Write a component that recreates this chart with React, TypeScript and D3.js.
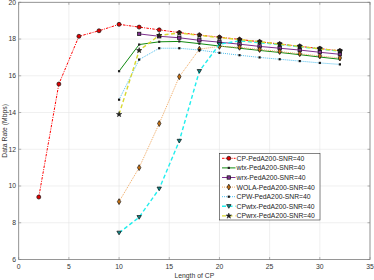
import React from "react";
import * as d3 from "d3";

const cpLen = [2, 4, 6, 8, 10, 12, 14, 16, 18, 20, 22, 24, 26, 28, 30, 32];
const cpLen10 = [10, 12, 14, 16, 18, 20, 22, 24, 26, 28, 30, 32];
const cpLen12 = [12, 14, 16, 18, 20, 22, 24, 26, 28, 30, 32];

const cpRate = [9.4, 15.55, 18.15, 18.45, 18.8, 18.65, 18.5, 18.35, 18.22, 18.1, 17.98, 17.85, 17.73, 17.6, 17.48, 17.36];
const wtxRate = [16.25, 17.7, 17.85, 17.87, 17.75, 17.62, 17.5, 17.38, 17.27, 17.15, 17.02, 16.9];
const wrxRate = [18.28, 18.15, 18.07, 17.93, 17.83, 17.72, 17.6, 17.5, 17.4, 17.28, 17.17];
const wolaRate = [9.15, 11.0, 13.4, 15.95, 17.45, 17.6, 17.55, 17.43, 17.32, 17.2, 17.08, 16.97];
const cpwRate = [14.7, 16.88, 17.5, 17.5, 17.4, 17.25, 17.12, 17.0, 16.9, 16.8, 16.7, 16.62];
const cpwtxRate = [7.45, 8.3, 9.85, 12.45, 16.25, 17.72, 17.9, 17.8, 17.7, 17.58, 17.46, 17.33];
const cpwrxRate = [13.9, 17.38, 18.2, 18.33, 18.2, 18.08, 17.97, 17.85, 17.72, 17.6, 17.47, 17.35];

const xTicks = [0, 5, 10, 15, 20, 25, 30, 35];
const yTicks = [6, 8, 10, 12, 14, 16, 18, 20];

type Series = {
  name: string;
  xs: number[];
  ys: number[];
  color: string;
  dash: string;
  width: number;
  marker: string;
  fill: string;
};

const series: Series[] = [
  { name: "CP-PedA200-SNR=40", xs: cpLen, ys: cpRate, color: "#ff0000", dash: "2.5,1.2,1,1.2", width: 1, marker: "circle", fill: "#e00000" },
  { name: "wtx-PedA200-SNR=40", xs: cpLen10, ys: wtxRate, color: "#108a10", dash: "", width: 1, marker: "dot", fill: "#222" },
  { name: "wrx-PedA200-SNR=40", xs: cpLen12, ys: wrxRate, color: "#7e2f8e", dash: "", width: 1, marker: "square", fill: "#7e2f8e" },
  { name: "WOLA-PedA200-SNR=40", xs: cpLen10, ys: wolaRate, color: "#f0a860", dash: "1,1", width: 1, marker: "diamond", fill: "#c87010" },
  { name: "CPW-PedA200-SNR=40", xs: cpLen10, ys: cpwRate, color: "#4dbeee", dash: "1,1", width: 1, marker: "dot", fill: "#111" },
  { name: "CPwtx-PedA200-SNR=40", xs: cpLen10, ys: cpwtxRate, color: "#22eeee", dash: "4,2.5", width: 1.4, marker: "triangle", fill: "#108888" },
  { name: "CPwrx-PedA200-SNR=40", xs: cpLen10, ys: cpwrxRate, color: "#d8d830", dash: "4,2.5", width: 1.4, marker: "star", fill: "#222" },
];

const W = 374;
const H = 280;
const m = { left: 18.7, right: 4, top: 2.3, bottom: 20.5 };

function Marker({ type, x, y, fill }: { type: string; x: number; y: number; fill: string }) {
  const s = "#111";
  if (type === "circle") return <circle cx={x} cy={y} r={2} fill={fill} stroke={s} strokeWidth={0.7} />;
  if (type === "dot") return <rect x={x - 1.1} y={y - 1.1} width={2.2} height={2.2} fill={fill} />;
  if (type === "square") return <rect x={x - 1.7} y={y - 1.7} width={3.4} height={3.4} fill={fill} stroke={s} strokeWidth={0.7} />;
  if (type === "diamond") {
    const p = d3.symbol(d3.symbolDiamond, 10)();
    return <path d={p || ""} transform={`translate(${x},${y})`} fill={fill} stroke={s} strokeWidth={0.7} />;
  }
  if (type === "triangle") {
    const p = `M${x - 2.2},${y - 1.7} L${x + 2.2},${y - 1.7} L${x},${y + 2} Z`;
    return <path d={p} fill={fill} stroke={s} strokeWidth={0.7} />;
  }
  const p = d3.symbol(d3.symbolStar, 9)();
  return <path d={p || ""} transform={`translate(${x},${y})`} fill={fill} stroke={s} strokeWidth={0.5} />;
}

export default function App() {
  const x = d3.scaleLinear().domain([0, 35]).range([m.left, W - m.right]);
  const y = d3.scaleLinear().domain([6, 20]).range([H - m.bottom, m.top]);
  const font = "Liberation Sans, Arial, sans-serif";

  const lg = { x: 219.5, y: 153.3, w: 100.5, h: 66.7, row: 9.6 };

  return (
    <svg width={W} height={H} style={{ position: "absolute", left: 0, top: 0, background: "#fff" }}>
      <rect x={0} y={0} width={W} height={H} fill="#fff" />
      {xTicks.map((t) => (
        <line key={"gx" + t} x1={x(t)} x2={x(t)} y1={y(6)} y2={y(20)} stroke="#e6e6e6" strokeWidth={0.6} />
      ))}
      {yTicks.map((t) => (
        <line key={"gy" + t} x1={x(0)} x2={x(35)} y1={y(t)} y2={y(t)} stroke="#e6e6e6" strokeWidth={0.6} />
      ))}
      {series.map((s) => {
        const pts = s.xs.map((v, i) => [x(v), y(s.ys[i])] as [number, number]);
        return (
          <g key={s.name}>
            <path d={d3.line()(pts) || ""} fill="none" stroke={s.color} strokeWidth={s.width} strokeDasharray={s.dash || undefined} />
            {pts.map((p, i) => (
              <Marker key={i} type={s.marker} x={p[0]} y={p[1]} fill={s.fill} />
            ))}
          </g>
        );
      })}
      <rect x={x(0)} y={y(20)} width={x(35) - x(0)} height={y(6) - y(20)} fill="none" stroke="#808080" strokeWidth={0.8} />
      {xTicks.map((t) => (
        <g key={"tx" + t}>
          <line x1={x(t)} x2={x(t)} y1={y(6)} y2={y(6) - 2.5} stroke="#808080" strokeWidth={0.6} />
          <line x1={x(t)} x2={x(t)} y1={y(20)} y2={y(20) + 2.5} stroke="#808080" strokeWidth={0.6} />
          <text x={x(t)} y={269} textAnchor="middle" fontSize={6.8} fontFamily={font} fill="#333">{t}</text>
        </g>
      ))}
      {yTicks.map((t) => (
        <g key={"ty" + t}>
          <line x1={x(0)} x2={x(0) + 2.5} y1={y(t)} y2={y(t)} stroke="#808080" strokeWidth={0.6} />
          <line x1={x(35)} x2={x(35) - 2.5} y1={y(t)} y2={y(t)} stroke="#808080" strokeWidth={0.6} />
          <text x={16} y={y(t) + 2.4} textAnchor="end" fontSize={6.8} fontFamily={font} fill="#333">{t}</text>
        </g>
      ))}
      <text x={x(17.5)} y={277.5} textAnchor="middle" fontSize={6.8} fontFamily={font} fill="#333">Length of CP</text>
      <text transform={`translate(6.5,${y(13)}) rotate(-90)`} textAnchor="middle" fontSize={6.8} fontFamily={font} fill="#333">Data Rate (Mbps)</text>
      <g>
        <rect x={lg.x} y={lg.y} width={lg.w} height={lg.h} fill="#fff" stroke="#333" strokeWidth={0.6} />
        {series.map((s, i) => {
          const cy = lg.y + 5 + i * lg.row;
          return (
            <g key={"lg" + s.name}>
              <line x1={lg.x + 2.5} x2={lg.x + 16} y1={cy} y2={cy} stroke={s.color} strokeWidth={s.width} strokeDasharray={s.dash || undefined} />
              <Marker type={s.marker} x={lg.x + 9.3} y={cy} fill={s.fill} />
              <text x={lg.x + 17} y={cy + 2.4} fontSize={6.8} fontFamily={font} fill="#222">{s.name}</text>
            </g>
          );
        })}
      </g>
    </svg>
  );
}
